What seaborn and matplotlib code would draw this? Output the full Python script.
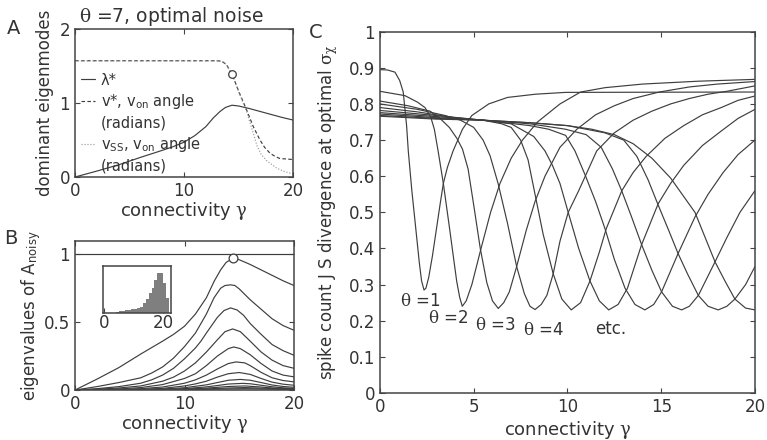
import numpy as np
import pandas as pd
import matplotlib
matplotlib.use("Agg")
import matplotlib.pyplot as plt
from matplotlib.lines import Line2D
import seaborn as sns

# -----------------------------
# DATA
# -----------------------------
# largest eigenvalue lambda* vs connectivity (panel A solid, panel B top curve)
lam1_x = [0, 2, 4, 6, 8, 9, 10, 11, 12, 12.7, 13.3, 13.8, 14.4, 15, 16, 17, 18, 19, 20]
lam1_y = [0, .08, .165, .265, .36, .41, .47, .56, .68, .80, .885, .94, .97, .96, .925, .885, .845, .805, .77]

# panel A: angles (radians)
vstar_x = [0, 13.0, 13.45, 13.9, 14.5, 15.1, 15.75, 16.36, 16.97, 17.4, 17.9, 18.4, 18.8, 19.7, 20]
vstar_y = [1.571, 1.571, 1.565, 1.52, 1.355, 1.13, 0.905, 0.68, 0.50, 0.40, 0.32, 0.275, 0.25, 0.24, 0.235]
vss_x = [0, 13.0, 13.45, 13.9, 14.5, 15.1, 15.75, 16.3, 16.7, 17.1, 17.6, 18.5, 19.1, 20]
vss_y = [1.571, 1.571, 1.565, 1.52, 1.35, 1.12, 0.88, 0.62, 0.42, 0.30, 0.22, 0.12, 0.08, 0.04]
markA_x = [14.4]
markA_y = [1.39]

# panel B: the other eigenvalues of A_noisy
lam2_x = [0, 2, 4, 6, 7, 8, 9, 10, 11, 11.5, 12, 12.7, 13.3, 13.7, 14.2, 14.6, 15, 16, 17, 18, 19, 20]
lam2_y = [0, .025, .055, .09, .125, .17, .235, .32, .42, .49, .56, .68, .75, .77, .775, .77, .745, .665, .595, .525, .475, .44]
lam3_x = [0, 2, 4, 6, 7, 8, 9, 10, 11, 11.5, 12, 13, 13.6, 14.2, 14.8, 15.4, 16, 17, 18, 19, 20]
lam3_y = [0, .01, .025, .05, .075, .11, .16, .23, .31, .36, .42, .535, .585, .605, .59, .55, .49, .41, .335, .29, .256]
lam4_x = [0, 2, 4, 6, 8, 9, 10, 11, 12, 13, 13.7, 14.4, 15.1, 16, 17, 18, 19, 20]
lam4_y = [0, .005, .015, .03, .065, .095, .14, .20, .28, .37, .43, .45, .43, .36, .28, .22, .18, .16]
lam5_x = [0, 4, 6, 8, 10, 11, 12, 13, 14, 14.5, 15.1, 16, 17, 18, 19, 20]
lam5_y = [0, .008, .018, .04, .085, .12, .18, .25, .305, .317, .305, .26, .195, .14, .11, .097]
lam6_x = [0, 4, 6, 8, 10, 11, 12, 13, 14, 14.7, 15.5, 16, 17, 18, 19, 20]
lam6_y = [0, .004, .01, .022, .05, .075, .11, .155, .195, .207, .20, .18, .13, .09, .07, .06]
lam7_x = [0, 6, 8, 10, 11, 12, 13, 14, 15, 16, 17, 18, 19, 20]
lam7_y = [0, .005, .012, .03, .045, .065, .095, .12, .129, .115, .085, .058, .043, .035]
lam8_x = [0, 6, 8, 10, 12, 13, 14, 15.1, 16, 17, 18, 19, 20]
lam8_y = [0, .003, .007, .017, .038, .055, .072, .078, .072, .055, .037, .026, .02]
lam9_x = [0, 8, 10, 12, 13, 14, 15.3, 16, 17, 18, 19, 20]
lam9_y = [0, .004, .01, .023, .033, .044, .049, .046, .035, .024, .016, .012]
lam10_x = [0, 8, 10, 12, 14, 15.5, 17, 18, 20]
lam10_y = [0, .002, .006, .014, .026, .03, .022, .015, .008]
lam11_x = [0, 10, 12, 14, 15.5, 17, 20]
lam11_y = [0, .003, .008, .015, .018, .014, .005]
lam12_x = [0, 10, 12, 14, 15.5, 17, 20]
lam12_y = [0, .002, .005, .008, .01, .008, .003]
markB_x = [14.4]
markB_y = [0.97]
unit_level = 1.0

# panel B inset: histogram of eigenvalue spectrum
hist_centers = [4.5, 5.5, 6.5, 7.5, 8.5, 9.5, 10.5, 11.5, 12.5, 13.5, 14.5, 15.5, 16.5, 17.5, 18.5, 19.5, 20.5, 21.5]
hist_counts = [2, 3, 4, 5, 6, 7, 8, 10, 12, 20, 30, 42, 52, 70, 86, 86, 63, 32]

# panel C: spike count JS divergence for theta = 1..10
js1_x = [0, 0.4, 0.8, 1.05, 1.24, 1.42, 1.51, 1.7, 1.9, 2.1, 2.22, 2.35, 2.45, 2.6, 2.8, 3.0, 3.2, 3.38, 3.6, 3.9, 4.4, 4.9, 5.8, 6.8, 8.3, 9.9, 20]
js1_y = [.895, .894, .888, .865, .833, .74, .67, .56, .46, .36, .31, .285, .29, .32, .38, .45, .52, .58, .625, .67, .73, .768, .80, .818, .827, .832, .833]
js2_x = [0, 1.33, 2.0, 2.4, 2.7, 2.9, 3.1, 3.38, 3.7, 4.09, 4.25, 4.39, 4.6, 4.9, 5.39, 5.9, 6.4, 7.0, 7.6, 8.4, 9.6, 10.7, 12, 14, 17, 20]
js2_y = [.835, .823, .805, .79, .765, .73, .67, .58, .46, .31, .265, .24, .255, .30, .40, .50, .58, .65, .70, .75, .80, .833, .845, .855, .863, .868]
js3_x = [0, 1.5, 2.67, 3.2, 3.7, 4.1, 4.4, 4.7, 5.0, 5.35, 5.7, 6.0, 6.31, 6.6, 6.9, 7.29, 7.8, 8.27, 8.8, 9.6, 10.5, 11.5, 12.5, 13.5, 14.9, 16.5, 18, 20]
js3_y = [.808, .795, .78, .76, .735, .705, .675, .62, .52, .40, .305, .255, .234, .25, .28, .35, .45, .53, .60, .68, .73, .77, .795, .815, .833, .847, .855, .862]
js4_x = [0, 2, 3.47, 4.3, 5.0, 5.5, 5.87, 6.3, 6.8, 7.29, 7.7, 8.0, 8.27, 8.6, 8.9, 9.24, 9.6, 10.04, 10.6, 11.56, 12.5, 13.5, 14.5, 15.5, 16.5, 17.5, 18.5, 20]
js4_y = [.80, .785, .768, .755, .735, .70, .657, .58, .47, .35, .275, .24, .231, .245, .27, .33, .42, .50, .56, .67, .72, .755, .78, .80, .815, .827, .835, .85]
js5_x = [0, 2, 4, 5.5, 6.5, 7.0, 7.5, 7.9, 8.27, 8.7, 9.24, 9.7, 10.2, 10.7, 11.2, 11.7, 12.07, 12.9, 13.5, 14.2, 15.2, 16.2, 17.2, 18.2, 19.1, 20]
js5_y = [.79, .778, .762, .755, .745, .735, .70, .645, .55, .44, .33, .26, .23, .25, .31, .39, .455, .56, .61, .655, .705, .74, .77, .79, .81, .822]
js6_x = [0, 3, 5.5, 7, 8.2, 8.8, 9.2, 9.6, 10.04, 10.6, 11.2, 11.7, 12.2, 12.7, 13.2, 13.95, 14.84, 15.5, 16.2, 17.2, 18.2, 19.1, 20]
js6_y = [.782, .768, .755, .745, .71, .67, .63, .58, .50, .40, .31, .255, .23, .245, .29, .41, .524, .58, .63, .685, .725, .76, .785]
js7_x = [0, 3, 5.5, 8, 9.0, 9.9, 10.4, 10.93, 11.5, 12.0, 12.5, 13.07, 13.6, 14.13, 14.6, 15.02, 15.9, 16.8, 17.5, 18.3, 19.1, 20]
js7_y = [.776, .765, .755, .74, .73, .713, .67, .605, .53, .455, .37, .29, .245, .23, .245, .28, .386, .487, .55, .61, .66, .70]
js8_x = [0, 3, 5.5, 8, 9.9, 11, 11.8, 12.4, 12.89, 13.4, 13.96, 14.5, 15.02, 15.6, 16.09, 16.5, 16.98, 17.87, 18.5, 19.2, 20]
js8_y = [.772, .762, .755, .745, .73, .715, .68, .62, .56, .49, .41, .34, .28, .24, .23, .24, .27, .363, .43, .50, .56]
js9_x = [0, 3, 5.5, 8, 10, 12, 13, 13.7, 14.3, 14.84, 15.4, 15.9, 16.4, 16.98, 17.5, 18.04, 18.5, 18.93, 19.5, 20]
js9_y = [.768, .76, .755, .748, .74, .72, .70, .655, .59, .52, .45, .386, .33, .27, .24, .23, .24, .26, .30, .35]
js10_x = [0, 3, 5.5, 8, 10, 11.3, 12.5, 13.5, 14.5, 15.5, 16.8, 17.87, 18.4, 18.93, 19.5, 20]
js10_y = [.766, .758, .755, .748, .74, .73, .715, .69, .65, .595, .50, .363, .31, .26, .235, .23]

theta_labels = ["$\\mathrm{\\theta}$ =1", "$\\mathrm{\\theta}$ =2", "$\\mathrm{\\theta}$ =3", "$\\mathrm{\\theta}$ =4", "etc."]
theta_label_x = [1.07, 2.58, 5.07, 7.64, 11.47]
theta_label_y = [0.254, 0.207, 0.188, 0.174, 0.178]

# -----------------------------
# STYLE
# -----------------------------
LINE = "#3e3e3e"
EDGE = "#444444"
TEXT = "#333333"
LW = 0.85

sns.set_style("ticks")
plt.rcParams.update({
    "font.family": ["DejaVu Sans"],
    "font.size": 11,
    "mathtext.fontset": "custom",
    "mathtext.rm": "DejaVu Serif",
    "mathtext.it": "DejaVu Serif:italic",
    "mathtext.sf": "DejaVu Sans",
    "xtick.direction": "in",
    "ytick.direction": "in",
    "xtick.top": True,
    "ytick.right": True,
    "xtick.major.size": 3.5,
    "ytick.major.size": 3.5,
    "xtick.labelsize": 12,
    "ytick.labelsize": 12,
    "axes.edgecolor": EDGE,
    "axes.linewidth": 1.1,
    "xtick.color": EDGE,
    "ytick.color": EDGE,
    "xtick.labelcolor": TEXT,
    "ytick.labelcolor": TEXT,
    "axes.labelcolor": TEXT,
    "text.color": TEXT,
})

fig = plt.figure(figsize=(7.67, 4.40), dpi=100)
axA = fig.add_axes([0.0978, 0.5977, 0.2842, 0.3364])
axB = fig.add_axes([0.0978, 0.1136, 0.2855, 0.3393])
axC = fig.add_axes([0.4954, 0.1068, 0.4889, 0.8212])
axIn = fig.add_axes([0.1339, 0.2893, 0.0891, 0.1061])

# -----------------------------
# PANEL A
# -----------------------------
sns.lineplot(x=lam1_x, y=lam1_y, ax=axA, color=LINE, lw=LW, sort=False, estimator=None)
sns.lineplot(x=vstar_x, y=vstar_y, ax=axA, color=LINE, lw=LW, linestyle=(0, (3, 2)), sort=False, estimator=None)
sns.lineplot(x=vss_x, y=vss_y, ax=axA, color="#9a9a9a", lw=LW, linestyle=(0, (1, 1.5)), sort=False, estimator=None)
sns.scatterplot(x=markA_x, y=markA_y, ax=axA, s=30, facecolor="white", edgecolor=LINE, linewidth=0.9, zorder=5)
axA.set_xlim(0, 20)
axA.set_ylim(0, 2)
axA.set_xticks([0, 10, 20])
axA.set_yticks([0, 1, 2])
axA.set_xlabel("connectivity $\\mathrm{\\gamma}$", fontsize=13, labelpad=0)
axA.set_ylabel("dominant eigenmodes", fontsize=12, labelpad=4)
axA.set_title("$\\mathrm{\\theta}$ =7, optimal noise", fontsize=13.5, pad=5, x=0.44)

blank = Line2D([], [], linestyle="none")
handles = [
    Line2D([], [], color=LINE, lw=LW),
    Line2D([], [], color=LINE, lw=LW, linestyle=(0, (3, 2))),
    blank,
    Line2D([], [], color="#9a9a9a", lw=LW, linestyle=(0, (1, 1.5))),
    blank,
]
labels = ["λ*", "v*, v$_{\\mathsf{on}}$ angle", "(radians)",
          "v$_{\\mathsf{SS}}$, v$_{\\mathsf{on}}$ angle", "(radians)"]
axA.legend(handles, labels, loc="upper left", bbox_to_anchor=(0.0, 0.745), frameon=False,
           fontsize=10.5, handlelength=1.0, handletextpad=0.35, labelspacing=0.3,
           borderaxespad=0.2, borderpad=0.2)

# -----------------------------
# PANEL B
# -----------------------------
eig_curves = [(lam1_x, lam1_y), (lam2_x, lam2_y), (lam3_x, lam3_y), (lam4_x, lam4_y),
              (lam5_x, lam5_y), (lam6_x, lam6_y), (lam7_x, lam7_y), (lam8_x, lam8_y),
              (lam9_x, lam9_y), (lam10_x, lam10_y), (lam11_x, lam11_y), (lam12_x, lam12_y)]
df_eig = pd.concat([pd.DataFrame({"gamma": x, "ev": y, "k": i})
                    for i, (x, y) in enumerate(eig_curves)])
axB.axhline(unit_level, color=LINE, lw=LW)
sns.lineplot(data=df_eig, x="gamma", y="ev", units="k", estimator=None, sort=False,
             color=LINE, lw=LW, ax=axB, legend=False)
sns.scatterplot(x=markB_x, y=markB_y, ax=axB, s=40, facecolor="white", edgecolor=LINE, linewidth=0.9, zorder=5)
axB.set_xlim(0, 20)
axB.set_ylim(0, 1.1)
axB.set_xticks([0, 10, 20])
axB.set_yticks([0, 0.5, 1])
axB.set_yticklabels(["0", "0.5", "1"])
axB.set_xlabel("connectivity $\\mathrm{\\gamma}$", fontsize=13, labelpad=0)
axB.set_ylabel("eigenvalues of A$_{\\mathsf{noisy}}$", fontsize=12, labelpad=0.5)

# inset histogram
df_hist = pd.DataFrame({"val": hist_centers, "count": hist_counts})
sns.histplot(data=df_hist, x="val", weights="count", binwidth=1, binrange=(4, 22), ax=axIn,
             color="#7f7f7f", edgecolor="none", alpha=1.0, linewidth=0)
axIn.set_xlim(-0.5, 22.6)
axIn.set_ylim(0, 100)
axIn.set_xticks([0, 20])
axIn.set_yticks([])
axIn.tick_params(top=False, right=False, left=False, labelsize=12, pad=1)
axIn.set_xlabel("")
axIn.set_ylabel("")

# -----------------------------
# PANEL C
# -----------------------------
js_curves = [(js1_x, js1_y), (js2_x, js2_y), (js3_x, js3_y), (js4_x, js4_y), (js5_x, js5_y),
             (js6_x, js6_y), (js7_x, js7_y), (js8_x, js8_y), (js9_x, js9_y), (js10_x, js10_y)]
df_js = pd.concat([pd.DataFrame({"gamma": x, "js": y, "theta": i + 1})
                   for i, (x, y) in enumerate(js_curves)])
sns.lineplot(data=df_js, x="gamma", y="js", units="theta", estimator=None, sort=False,
             color=LINE, lw=LW, ax=axC, legend=False)
for lab, lx, ly in zip(theta_labels, theta_label_x, theta_label_y):
    axC.text(lx, ly, lab, fontsize=12, ha="left", va="center")
axC.set_xlim(0, 20)
axC.set_ylim(0, 1)
axC.set_xticks([0, 5, 10, 15, 20])
axC.set_yticks(np.arange(0, 1.01, 0.1))
axC.set_yticklabels(["0", "0.1", "0.2", "0.3", "0.4", "0.5", "0.6", "0.7", "0.8", "0.9", "1"])
axC.set_xlabel("connectivity $\\mathrm{\\gamma}$", fontsize=13, labelpad=2)
axC.set_ylabel("spike count J S divergence at optimal $\\mathrm{\\sigma_{\\chi}}$", fontsize=12, labelpad=6)

# panel letters
fig.text(0.017, 0.936, "A", fontsize=14, ha="center", va="center")
fig.text(0.0140, 0.459, "B", fontsize=14, ha="center", va="center")
fig.text(0.411, 0.925, "C", fontsize=14, ha="center", va="center")

fig.savefig("out.png", dpi=100)
